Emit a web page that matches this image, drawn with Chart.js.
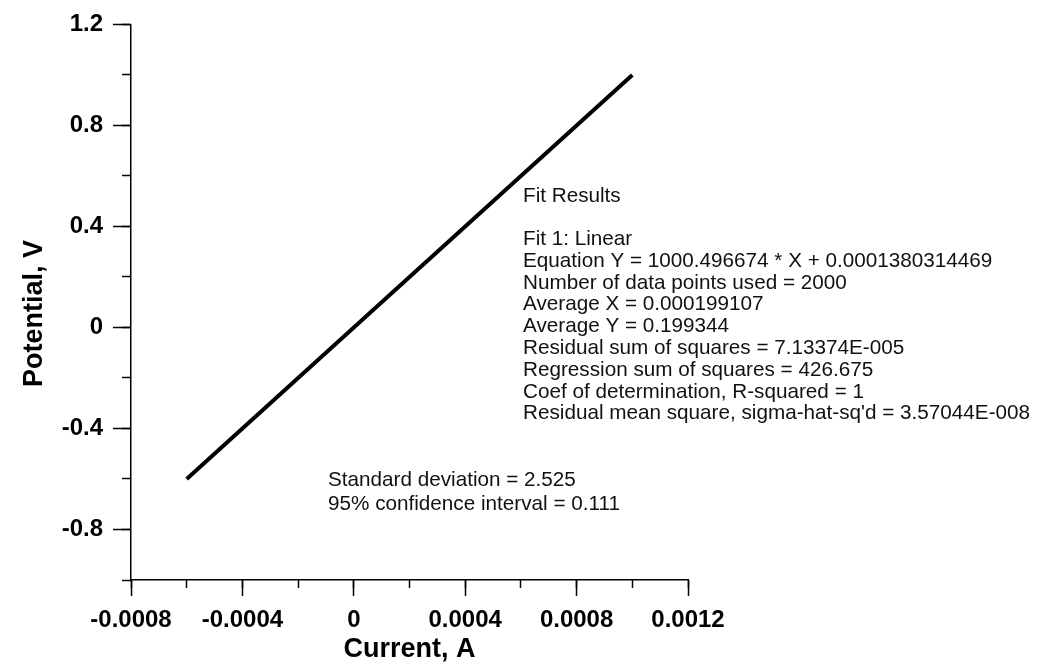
<!DOCTYPE html>
<html>
<head>
<meta charset="utf-8">
<script src="https://cdn.jsdelivr.net/npm/chart.js@4"></script>
<style>
  html, body { margin: 0; padding: 0; background: #ffffff; }
  #wrap { width: 1049px; height: 670px; position: relative; }
</style>
</head>
<body>
<div id="wrap"><canvas id="fitChart"></canvas></div>
<script>
// Fitted line (Current in A, Potential in V)
const currentA = [-0.0006, -0.0002, 0.0002, 0.0006, 0.001];
const potentialV = [-0.6, -0.2, 0.2, 0.6, 1.0];

// Axis ticks
const xMajorTicks = [-0.0008, -0.0004, 0, 0.0004, 0.0008, 0.0012];
const xTickLabels = ['-0.0008', '-0.0004', '0', '0.0004', '0.0008', '0.0012'];
const xMinorTicks = [-0.0008, -0.0006, -0.0004, -0.0002, 0, 0.0002, 0.0004, 0.0006, 0.0008, 0.001, 0.0012];
const yMajorTicks = [-0.8, -0.4, 0, 0.4, 0.8, 1.2];
const yTickLabels = ['-0.8', '-0.4', '0', '0.4', '0.8', '1.2'];
const yMinorTicks = [-1.0, -0.8, -0.6, -0.4, -0.2, 0, 0.2, 0.4, 0.6, 0.8, 1.0, 1.2];

// Annotation text
const fitTitle = 'Fit Results';
const fitLines = [
    'Fit 1: Linear',
    'Equation Y = 1000.496674 * X + 0.0001380314469',
    'Number of data points used = 2000',
    'Average X = 0.000199107',
    'Average Y = 0.199344',
    'Residual sum of squares = 7.13374E-005',
    'Regression sum of squares = 426.675',
    'Coef of determination, R-squared = 1',
    "Residual mean square, sigma-hat-sq'd = 3.57044E-008"
];
const statLines = [
    'Standard deviation = 2.525',
    '95% confidence interval = 0.111'
];

Chart.defaults.color = '#000000';
Chart.defaults.font.family = "'Liberation Sans', Arial, Helvetica, sans-serif";

const tickFont = { size: 24, weight: 'bold' };
const titleFont = { size: 27, weight: 'bold' };

// Free text drawn on top of the plot
const fitTextPlugin = {
    id: 'fitText',
    afterDraw(chart) {
        const ctx = chart.ctx;
        ctx.save();
        ctx.fillStyle = '#111111';
        ctx.font = "20.7px 'Liberation Sans', Arial, Helvetica, sans-serif";
        ctx.textAlign = 'left';
        ctx.textBaseline = 'alphabetic';
        ctx.fillText(fitTitle, 523, 202);
        fitLines.forEach((line, i) => {
            ctx.fillText(line, 523, 245 + i * 21.8);
        });
        statLines.forEach((line, i) => {
            ctx.fillText(line, 328, 486 + i * 23.5);
        });
        ctx.restore();
    }
};

const ctx = document.getElementById('fitChart').getContext('2d');

new Chart(ctx, {
    type: 'scatter',
    data: {
        datasets: [{
            label: 'Fit 1: Linear',
            data: currentA.map((x, i) => ({ x: x, y: potentialV[i] })),
            showLine: true,
            borderColor: '#000000',
            borderWidth: 4,
            pointRadius: 0,
            tension: 0,
            xAxisID: 'x',
            yAxisID: 'y'
        }]
    },
    options: {
        responsive: true,
        maintainAspectRatio: false,
        animation: false,
        layout: {
            padding: { left: 0, top: 17, right: 361, bottom: 0 }
        },
        plugins: {
            legend: { display: false },
            tooltip: { enabled: false }
        },
        scales: {
            x: {
                type: 'linear',
                position: 'bottom',
                min: -0.0008,
                max: 0.0012,
                afterBuildTicks: s => { s.ticks = xMajorTicks.map(v => ({ value: v })); },
                afterFit: s => { s.height = 90; },
                grid: {
                    drawOnChartArea: false,
                    tickLength: 16,
                    tickWidth: 1.5,
                    tickColor: '#000000'
                },
                border: { color: '#000000', width: 1.5 },
                ticks: {
                    autoSkip: false,
                    maxRotation: 0,
                    padding: 10,
                    font: tickFont,
                    callback: (v, i) => xTickLabels[i]
                },
                title: {
                    display: true,
                    text: 'Current, A',
                    font: titleFont,
                    padding: { top: 0, bottom: 4 }
                }
            },
            y: {
                type: 'linear',
                position: 'left',
                min: -1.0,
                max: 1.2,
                afterBuildTicks: s => { s.ticks = yMajorTicks.map(v => ({ value: v })); },
                afterFit: s => { s.width = 131; },
                grid: {
                    drawOnChartArea: false,
                    tickLength: 18,
                    tickWidth: 1.5,
                    tickColor: '#000000'
                },
                border: { color: '#000000', width: 1.5 },
                ticks: {
                    autoSkip: false,
                    padding: 10,
                    font: tickFont,
                    callback: (v, i) => yTickLabels[i]
                },
                title: {
                    display: true,
                    text: 'Potential, V   ',
                    font: titleFont,
                    padding: { top: 18, bottom: 0 }
                }
            },
            // short minor ticks, sitting on the same axis lines
            x2: {
                type: 'linear',
                position: { y: -1.0 },
                min: -0.0008,
                max: 0.0012,
                afterBuildTicks: s => { s.ticks = xMinorTicks.map(v => ({ value: v })); },
                grid: {
                    drawOnChartArea: false,
                    tickLength: 8,
                    tickWidth: 1.5,
                    tickColor: '#000000'
                },
                border: { display: false },
                ticks: { display: false }
            },
            y2: {
                type: 'linear',
                position: { x: -0.0008 },
                min: -1.0,
                max: 1.2,
                afterBuildTicks: s => { s.ticks = yMinorTicks.map(v => ({ value: v })); },
                grid: {
                    drawOnChartArea: false,
                    tickLength: 9,
                    tickWidth: 1.5,
                    tickColor: '#000000'
                },
                border: { display: false },
                ticks: { display: false }
            }
        }
    },
    plugins: [fitTextPlugin]
});
</script>
</body>
</html>
